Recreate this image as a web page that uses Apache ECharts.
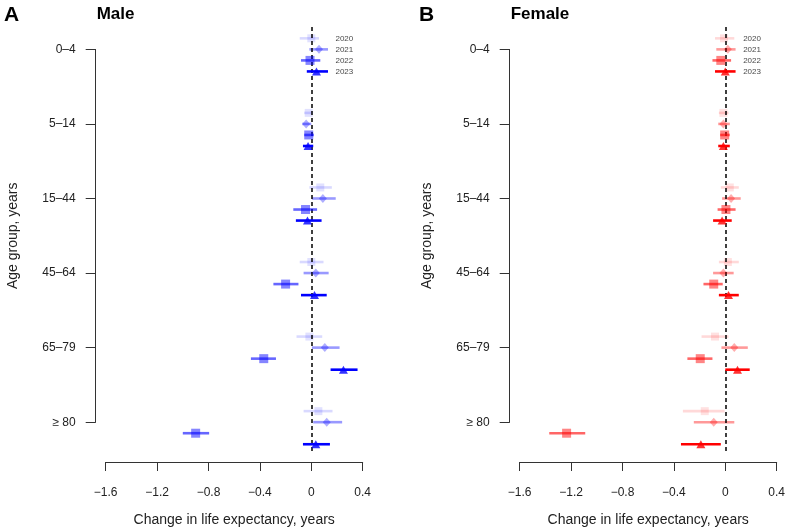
<!DOCTYPE html>
<html>
<head>
<meta charset="utf-8">
<script src="https://cdn.jsdelivr.net/npm/echarts@6/dist/echarts.min.js"></script>
<style>html,body{margin:0;padding:0;background:#fff;}#main{width:787px;height:530px;}</style>
</head>
<body>
<div id="main"></div>
<script>
// ---- data ----
const ageGroups = ['0–4', '5–14', '15–44', '45–64', '65–79', '≥ 80'];
const years = ['2020', '2021', '2022', '2023'];
const xTickValues = [-1.6, -1.2, -0.8, -0.4, 0, 0.4];
// [estimate, lower CI, upper CI] per age group
const male2020 = [[0.00,-0.09,0.06],[-0.02,-0.055,0.01],[0.07,-0.015,0.16],[0.00,-0.09,0.095],[-0.015,-0.115,0.085],[0.055,-0.06,0.165]];
const male2021 = [[0.06,-0.015,0.13],[-0.04,-0.07,0.00],[0.09,0.005,0.19],[0.035,-0.06,0.135],[0.105,0.005,0.22],[0.12,0.015,0.24]];
const male2022 = [[-0.01,-0.08,0.07],[-0.02,-0.055,0.02],[-0.045,-0.14,0.045],[-0.20,-0.295,-0.10],[-0.37,-0.47,-0.275],[-0.90,-1.00,-0.795]];
const male2023 = [[0.04,-0.035,0.13],[-0.025,-0.065,0.015],[-0.03,-0.12,0.08],[0.025,-0.08,0.12],[0.25,0.15,0.36],[0.035,-0.065,0.145]];
const female2020 = [[-0.01,-0.08,0.07],[-0.015,-0.05,0.025],[0.035,-0.035,0.105],[0.02,-0.05,0.105],[-0.08,-0.185,0.025],[-0.16,-0.33,-0.005]];
const female2021 = [[0.02,-0.07,0.08],[-0.015,-0.055,0.035],[0.045,-0.025,0.12],[-0.015,-0.095,0.065],[0.07,-0.03,0.175],[-0.09,-0.245,0.07]];
const female2022 = [[-0.035,-0.10,0.045],[-0.005,-0.04,0.035],[0.005,-0.06,0.08],[-0.09,-0.17,-0.02],[-0.195,-0.295,-0.10],[-1.235,-1.37,-1.09]];
const female2023 = [[0.00,-0.08,0.08],[-0.015,-0.055,0.035],[-0.025,-0.095,0.05],[0.025,-0.05,0.105],[0.095,0.0,0.19],[-0.19,-0.345,-0.035]];

// ---- styling ----
const FONT = 'Liberation Sans, Arial, Helvetica, sans-serif';
const alphas = [0.15, 0.4, 0.6, 1.0];
const symbols = ['rect', 'diamond', 'rect', 'triangle'];
const symbolSizes = [8, [8, 9], 9, [9, 8]];
const rowStep = 0.148;

const panels = [
  { name: 'Male', letter: 'A', rgb: '0,0,255', data: [male2020, male2021, male2022, male2023], left: 105.7, labelX: 0.184 },
  { name: 'Female', letter: 'B', rgb: '255,0,0', data: [female2020, female2021, female2022, female2023], left: 519.7, labelX: 0.135 }
];

const grid = [], xAxis = [], yAxis = [], series = [], title = [];
const plotW = 257;

function fmtX(v) {
  if (v === 0) return '0';
  return (v < 0 ? '\u2212' : '') + Math.abs(v).toFixed(1);
}

panels.forEach((p, pi) => {
  const dataGrid = grid.length;
  grid.push({ left: p.left, width: plotW, top: 27, height: 425, containLabel: false, outerBoundsMode: 'none' });
  const axisGrid = grid.length;
  grid.push({ left: p.left, width: plotW, top: 49.4, height: 372.8, containLabel: false, outerBoundsMode: 'none' });

  xAxis.push({
    gridIndex: dataGrid, type: 'value', min: -1.6, max: 0.4, interval: 0.4, offset: 10,
    axisLine: { show: true, onZero: false, lineStyle: { color: '#333', width: 1 } },
    axisTick: { show: true, length: 9, lineStyle: { color: '#333' } },
    splitLine: { show: false },
    axisLabel: { margin: 25, fontSize: 12, color: '#222', fontFamily: FONT, formatter: fmtX,
      customValues: xTickValues },
    name: 'Change in life expectancy, years', nameLocation: 'middle', nameGap: 51,
    nameTextStyle: { fontSize: 14, color: '#222', fontFamily: FONT }
  });
  xAxis.push({ gridIndex: axisGrid, type: 'value', min: -1.6, max: 0.4, show: false,
    axisLine: { onZero: false } });

  yAxis.push({ gridIndex: dataGrid, type: 'value', min: -0.3, max: 5.4, inverse: true, show: false,
    axisLine: { onZero: false } });
  yAxis.push({
    gridIndex: axisGrid, type: 'category', data: ageGroups, boundaryGap: false, inverse: true, offset: 10,
    axisLine: { show: true, onZero: false, lineStyle: { color: '#333', width: 1 } },
    axisTick: { show: true, length: 10, alignWithLabel: true, lineStyle: { color: '#333' } },
    splitLine: { show: false },
    axisLabel: { margin: 20, fontSize: 12, color: '#222', fontFamily: FONT, interval: 0 },
    name: 'Age group, years', nameLocation: 'middle', nameGap: 76, nameRotate: 90,
    nameTextStyle: { fontSize: 14, color: '#222', fontFamily: FONT }
  });

  const xi = dataGrid, yi = dataGrid;

  // reference line at zero
  series.push({
    type: 'scatter', xAxisIndex: xi, yAxisIndex: yi, data: [], silent: true,
    markLine: {
      silent: true, symbol: 'none', label: { show: false }, animation: false,
      lineStyle: { color: '#000', type: [4, 3], width: 1.5 },
      data: [{ xAxis: 0 }]
    }
  });

  p.data.forEach((arr, k) => {
    const col = 'rgba(' + p.rgb + ',' + alphas[k] + ')';
    const off = (k - 1) * rowStep;
    series.push({
      type: 'custom', name: p.name + ' ' + years[k] + ' CI', xAxisIndex: xi, yAxisIndex: yi,
      z: 2 + 2 * k, silent: true, animation: false, clip: false,
      data: arr.map((d, i) => [d[1], d[2], i + off]),
      encode: { x: [0, 1], y: 2 },
      renderItem: function (params, api) {
        const a = api.coord([api.value(0), api.value(2)]);
        const b = api.coord([api.value(1), api.value(2)]);
        return { type: 'line', shape: { x1: a[0], y1: a[1], x2: b[0], y2: b[1] },
          style: { stroke: col, lineWidth: 2.6 } };
      }
    });
    series.push({
      type: 'scatter', name: p.name + ' ' + years[k], xAxisIndex: xi, yAxisIndex: yi,
      z: 3 + 2 * k, clip: false, animation: false, silent: true,
      symbol: symbols[k], symbolSize: symbolSizes[k],
      itemStyle: { color: col },
      data: arr.map((d, i) => [d[0], i + off])
    });
  });

  // year labels next to first age group
  series.push({
    type: 'scatter', xAxisIndex: xi, yAxisIndex: yi, silent: true, animation: false, clip: false,
    symbolSize: 1, itemStyle: { color: 'rgba(0,0,0,0)' },
    data: years.map((y, k) => ({ value: [p.labelX, (k - 1) * rowStep], name: y })),
    label: { show: true, position: 'right', distance: 0, formatter: '{b}', fontSize: 8, color: '#111', fontFamily: FONT }
  });

  title.push({ text: p.letter, left: pi === 0 ? 4 : 419, top: 5, padding: 0,
    textStyle: { fontSize: 21, fontWeight: 'bold', color: '#000', fontFamily: FONT } });
  title.push({ text: p.name, left: p.left - 9, top: 6, padding: 0,
    textStyle: { fontSize: 17, fontWeight: 'bold', color: '#000', fontFamily: FONT } });
});

const chart = echarts.init(document.getElementById('main'), null, { renderer: 'canvas' });
chart.setOption({
  backgroundColor: '#fff',
  animation: false,
  textStyle: { fontFamily: FONT },
  title, grid, xAxis, yAxis, series
});
</script>
</body>
</html>
